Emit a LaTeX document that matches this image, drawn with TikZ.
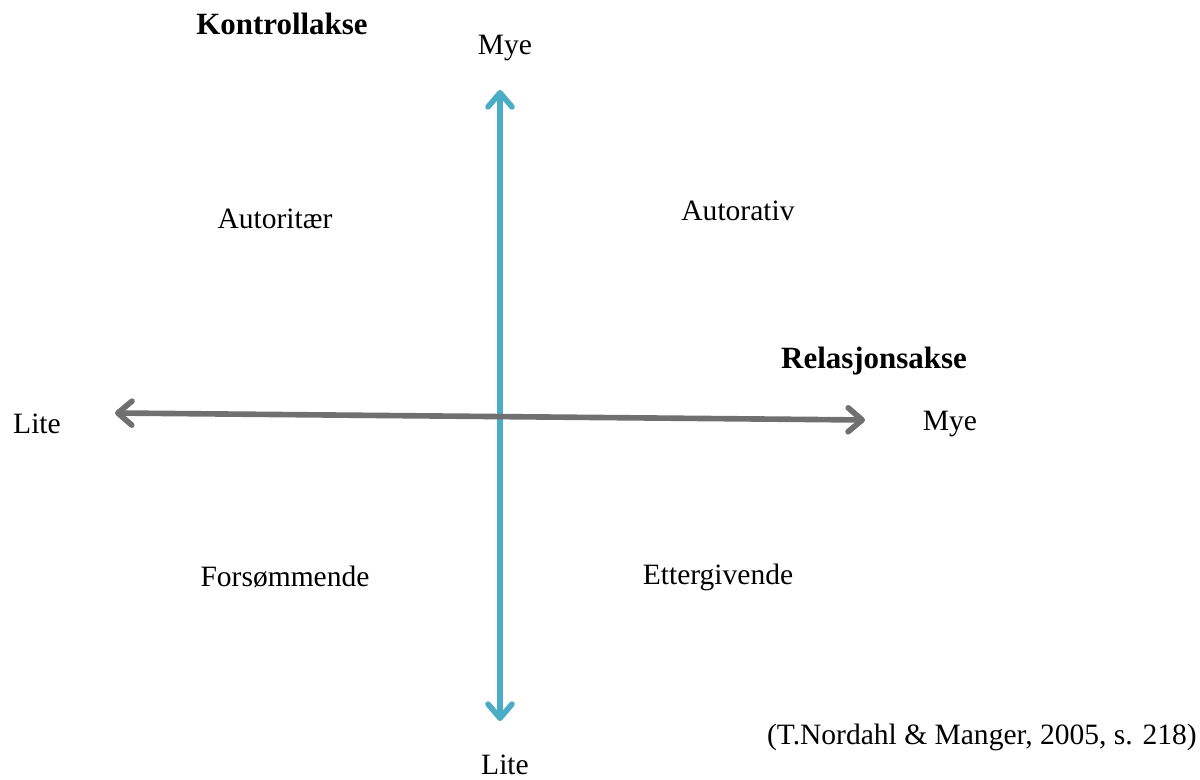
\documentclass[tikz,border=0pt]{standalone}
\usepackage{fontspec}
\setmainfont{Liberation Serif}
\usetikzlibrary{arrows.meta}
\definecolor{colKontroll}{RGB}{75, 172, 198}
\definecolor{colRelasjon}{RGB}{112, 112, 112}

\begin{document}
\begin{tikzpicture}[
  x=0.025cm, y=-0.025cm,
  lbl/.style={font=\fontsize{21}{26}\selectfont, inner sep=0pt},
  axis/.style={line width=4pt, line cap=round, #1,
               {Straight Barb[length=10pt, width=17pt, round]}-{Straight Barb[length=10pt, width=17pt, round]}}
]
\useasboundingbox (0,0) rectangle (1200,780);

% ---------- Endepunkter for aksene ----------
\coordinate (ctop) at (500,90);
\coordinate (cbot) at (500,721);
\coordinate (cleft) at (115,413);
\coordinate (cright) at (865,420);

% ---------- Kontrollakse (loddrett) ----------
\draw[axis=colKontroll] (ctop) -- (cbot);
% ---------- Relasjonsakse (vannrett) ----------
\draw[axis=colRelasjon] (cleft) -- (cright);

% ---------- Aksetitler ----------
\node[lbl, font=\fontsize{22}{26}\selectfont\bfseries] (kontroll) at (282,24) {Kontrollakse};
\node[lbl, font=\fontsize{22}{26}\selectfont\bfseries] (relasjon) at (874,361) {Relasjonsakse};

% ---------- Endepunktetiketter ----------
\node[lbl] (myetop) at (505,48) {Mye};
\node[lbl] (litebot) at (505,765) {Lite};
\node[lbl] (liteleft) at (37,424) {Lite};
\node[lbl] (myeright) at (950,424) {Mye};

% ---------- Kvadranter ----------
\node[lbl] (autoritaer) at (275,219) {Autoritær};
\node[lbl] (autorativ) at (738,211) {Autorativ};
\node[lbl] (forsom) at (285,577) {Forsømmende};
\node[lbl] (etter) at (718,577) {Ettergivende};

% ---------- Kilde ----------
\node[lbl, anchor=east] (kilde) at (1197,737) {(T.Nordahl \& Manger, 2005, s. 218)};

\end{tikzpicture}
\end{document}
